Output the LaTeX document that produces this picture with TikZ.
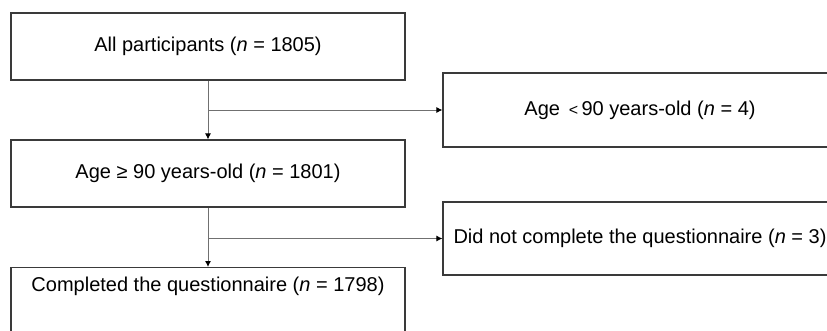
\documentclass[tikz,border=0pt]{standalone}
\usepackage{fontspec}
\setmainfont{Liberation Sans}
\usetikzlibrary{arrows.meta}
\definecolor{boxline}{HTML}{3A3A3A}
\definecolor{conn}{HTML}{707070}
\begin{document}
\begin{tikzpicture}[x=1pt,y=-1pt,
  box/.style={draw=boxline, line width=1.2pt, minimum width=394pt, inner sep=0pt,
    font=\fontsize{20pt}{24pt}\selectfont},
  conline/.style={draw=conn, line width=0.9pt},
  arr/.style={conline, -{Latex[length=6pt,width=6pt,color=black]}}]
\useasboundingbox (0,0) rectangle (827,330);
\clip (0,0) rectangle (827,330);
\node[box, minimum height=67pt] (b1) at (208,46.5) {All participants (\textit{n} = 1805)};
\node[box, minimum height=67pt] (b2) at (208,173.5) {Age ≥ 90 years-old (\textit{n} = 1801)};
\node[box, anchor=north, text height=14pt, text depth=50pt, inner ysep=10pt] (b3) at (208,267) {Completed the questionnaire (\textit{n} = 1798)};
\node[box, minimum height=74pt] (r1) at (640,110) {Age\ \,{\fontsize{16pt}{16pt}\selectfont <}\,90 years-old (\textit{n} = 4)};
\node[box, minimum height=73pt] (r2) at (640,238.5) {Did not complete the questionnaire (\textit{n} = 3)};
\coordinate (j1) at (b1.south |- r1.west);
\coordinate (j2) at (b2.south |- r2.west);
\draw[arr] (b1.south) -- (b2.north);
\draw[arr] (j1) -- (r1.west);
\draw[arr] (b2.south) -- (b3.north);
\draw[arr] (j2) -- (r2.west);
\end{tikzpicture}
\end{document}
